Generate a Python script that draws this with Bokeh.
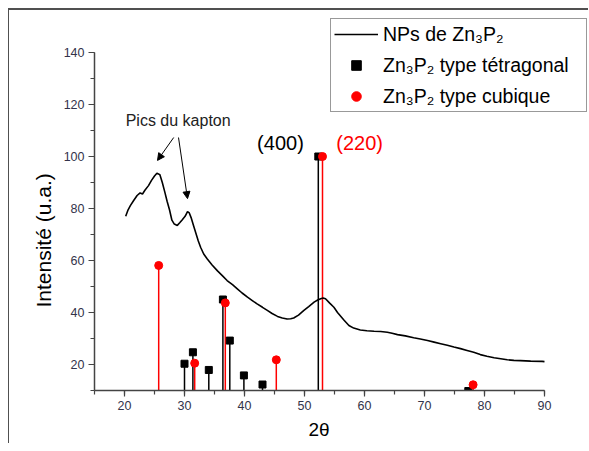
from bokeh.plotting import figure
from bokeh.models import (Range1d, SingleIntervalTicker, Label, Arrow, NormalHead,
                          Legend, LegendItem, ColumnDataSource, Title)
from bokeh.embed import file_html
from bokeh.resources import INLINE

# --- data -------------------------------------------------------------
two_theta = [20.2, 20.6, 21.0, 21.5, 22.1, 22.6, 23.0, 23.4, 24.0, 24.5, 25.0, 25.4,
             25.9, 26.3, 26.7, 27.1, 27.5, 27.9, 28.3, 28.8, 29.2, 29.6, 30.1, 30.5,
             30.8, 31.1, 31.5, 31.9, 32.3, 32.7, 33.2, 33.8, 34.6, 35.5, 36.3, 37.1,
             38.0, 38.8, 39.6, 40.5, 41.3, 42.1, 43.0, 43.8, 44.6, 45.5, 46.3, 47.1,
             47.7, 48.2, 49.0, 49.9, 50.7, 51.6, 52.2, 52.7, 53.1, 53.5, 54.2, 54.9,
             55.5, 56.6, 57.4, 58.2, 59.3, 60.4, 61.6, 62.7, 63.8, 64.6, 65.5, 66.8,
             68.2, 69.3, 70.5, 71.6, 72.7, 73.8, 74.9, 76.0, 77.1, 78.2, 79.3, 80.4,
             81.6, 82.7, 83.8, 84.9, 86.0, 87.7, 89.6, 90.0]
intensity = [77.0, 79.5, 81.2, 83.0, 85.0, 86.0, 85.6, 87.0, 88.8, 90.8, 92.5, 93.6,
             93.0, 90.0, 86.5, 82.8, 79.5, 75.5, 74.0, 73.5, 74.5, 75.6, 77.0, 78.8,
             78.3, 76.5, 73.5, 70.5, 67.5, 65.0, 62.5, 60.6, 58.3, 56.0, 54.2, 52.3,
             50.7, 49.1, 47.5, 45.9, 44.6, 43.3, 42.0, 40.8, 39.6, 38.5, 37.9, 37.5,
             37.6, 37.9, 39.0, 40.8, 42.3, 44.0, 44.8, 45.3, 45.6, 45.3, 43.6, 42.0,
             40.0, 37.0, 35.0, 34.0, 33.3, 33.0, 32.8, 32.7, 32.4, 32.0, 31.5, 31.0,
             30.3, 29.8, 29.2, 28.6, 28.0, 27.4, 26.7, 26.1, 25.4, 24.7, 23.8, 23.2,
             22.6, 22.2, 21.8, 21.6, 21.5, 21.3, 21.2, 21.1]

tetra_x = [30.0, 31.4, 34.05, 36.4, 37.55, 39.9, 43.0, 52.3, 77.3]
tetra_y = [20.3, 24.7, 17.9, 45.0, 29.2, 15.8, 12.3, 100.0, 9.8]

cubic_x = [25.7, 31.7, 36.8, 45.3, 53.0, 78.1]
cubic_y = [58.1, 20.5, 43.7, 21.8, 100.0, 12.2]

x_ticks = [20, 30, 40, 50, 60, 70, 80, 90]
y_ticks = [20, 40, 60, 80, 100, 120, 140]

labels = ["NPs de Zn\u2083P\u2082", "Zn\u2083P\u2082 type t\u00e9tragonal",
          "Zn\u2083P\u2082 type cubique"]

# axis extents (the axes themselves stop at these bounds)
X_MIN, X_MAX, Y_MIN, Y_MAX = 15, 90, 10, 140

# --- layout constants -------------------------------------------------
FRAME_W, FRAME_H = 494, 380        # frame extends up/right to hold the legend
PX_PER_X, PX_PER_Y = 6.0, 2.6      # pixel scale of the original axes
X_END = X_MIN + FRAME_W / PX_PER_X
Y_END = Y_MIN + FRAME_H / PX_PER_Y

FONT = "Liberation Sans"
AXIS_COL = "#444444"

p = figure(frame_width=FRAME_W, frame_height=FRAME_H,
           x_range=Range1d(X_MIN, X_END), y_range=Range1d(Y_MIN, Y_END),
           output_backend="svg", toolbar_location=None,
           min_border_left=85, min_border_right=0,
           min_border_top=0, min_border_bottom=20)
p.title.visible = False
# page frame of the original (top and left edges)
p.styles = {"margin-left": "9px", "margin-top": "8px",
            "border-top": "2px solid #505050",
            "box-shadow": "-1px 0px 0px 0px #505050"}
p.xgrid.visible = False
p.ygrid.visible = False
p.outline_line_color = None
p.background_fill_color = "white"
p.border_fill_color = "white"

# axes
p.xaxis.ticker = SingleIntervalTicker(interval=10, num_minor_ticks=2)
p.yaxis.ticker = SingleIntervalTicker(interval=20, num_minor_ticks=2)
p.xaxis.bounds = (X_MIN, X_MAX)
p.yaxis.bounds = (Y_MIN, Y_MAX)
for ax in (p.xaxis[0], p.yaxis[0]):
    ax.axis_line_color = AXIS_COL
    ax.axis_line_width = 1.5
    ax.major_tick_line_color = AXIS_COL
    ax.minor_tick_line_color = AXIS_COL
    ax.major_tick_line_width = 1.2
    ax.minor_tick_line_width = 1.2
    ax.major_tick_in = 0
    ax.minor_tick_in = 0
    ax.major_tick_out = 6
    ax.minor_tick_out = 4
    ax.major_label_text_font = FONT
    ax.major_label_text_font_size = "12.5px"
    ax.major_label_text_color = "#33334a"
    ax.major_label_standoff = 4

# axis titles as side titles so they can be positioned like the original
p.add_layout(Title(text="Intensit\u00e9 (u.a.)", align="left", offset=83,
                   standoff=12, text_font=FONT, text_font_size="21px",
                   text_font_style="normal", text_color="black"), "left")
p.add_layout(Title(text="2\u03b8", align="left", offset=214,
                   standoff=8, text_font=FONT, text_font_size="19px",
                   text_font_style="normal", text_color="black"), "below")

# sticks
tsrc = ColumnDataSource(dict(x=tetra_x, y=tetra_y, y0=[Y_MIN] * len(tetra_x)))
csrc = ColumnDataSource(dict(x=cubic_x, y=cubic_y, y0=[Y_MIN] * len(cubic_x)))
p.segment(x0="x", y0="y0", x1="x", y1="y", source=tsrc, line_color="black", line_width=1.5)
p.segment(x0="x", y0="y0", x1="x", y1="y", source=csrc, line_color="red", line_width=1.5)

curve = p.line(two_theta, intensity, line_color="black", line_width=1.6)
sq = p.scatter("x", "y", source=tsrc, marker="square", size=7,
               fill_color="black", line_color="black")
ci = p.scatter("x", "y", source=csrc, marker="circle", size=8,
               fill_color="red", line_color="red")

# annotations
p.add_layout(Label(x=20.2, y=113.8, text="Pics du kapton", text_align="left",
                   text_baseline="middle", text_font=FONT,
                   text_font_size="16px", text_color="#222222"))
p.add_layout(Label(x=42.1, y=105.2, text="(400)", text_align="left",
                   text_baseline="middle", text_font=FONT,
                   text_font_size="20px", text_color="black"))
p.add_layout(Label(x=55.3, y=105.2, text="(220)", text_align="left",
                   text_baseline="middle", text_font=FONT,
                   text_font_size="20px", text_color="red"))
p.add_layout(Arrow(x_start=28.2, y_start=107.3, x_end=25.5, y_end=98.5,
                   line_color="black", line_width=1,
                   end=NormalHead(size=7, fill_color="black", line_color="black")))
p.add_layout(Arrow(x_start=29.0, y_start=107.3, x_end=30.5, y_end=83.8,
                   line_color="black", line_width=1,
                   end=NormalHead(size=7, fill_color="black", line_color="black")))

legend = Legend(items=[LegendItem(label=labels[0], renderers=[curve]),
                       LegendItem(label=labels[1], renderers=[sq]),
                       LegendItem(label=labels[2], renderers=[ci])],
                location=(236, 278))
legend.label_text_font = FONT
legend.label_text_font_size = "19.5px"
legend.label_text_color = "black"
legend.glyph_width = 44
legend.glyph_height = 24
legend.label_height = 24
legend.label_width = 200
legend.label_standoff = 5
legend.spacing = 7
legend.padding = 3
legend.margin = 0
legend.border_line_color = "#333333"
legend.border_line_width = 1.2
legend.background_fill_color = "white"
legend.background_fill_alpha = 1
p.add_layout(legend, "center")

open("out.html", "w").write(file_html(p, INLINE))
